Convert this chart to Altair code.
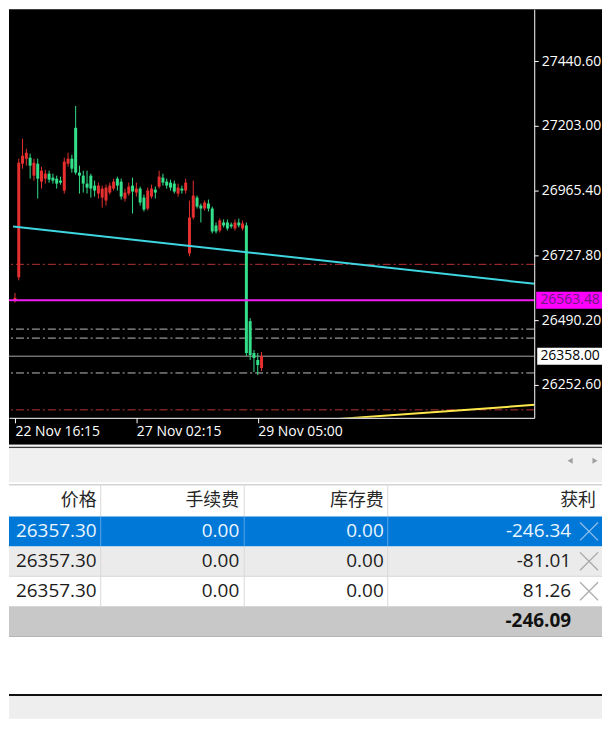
import altair as alt
import numpy as np
import pandas as pd

# -------------------- data --------------------
candle_open = [26560.0, 26647.4, 27064.1, 27082.3, 27086.0, 27020.2, 27064.1, 26998.3, 27009.2, 27027.5,
               27012.9, 27009.2, 27001.9, 26965.4, 27064.1, 27082.3, 27195.7, 27031.2, 27020.2, 26991.0,
               27020.2, 26983.7, 26954.4, 26939.8, 26928.8, 26958.1, 26972.7, 27009.2, 26998.3, 26936.1,
               26954.4, 26983.7, 26958.1, 26972.7, 26939.8, 26899.6, 26943.4, 26969.0, 26980.0, 27012.9,
               26998.3, 26994.6, 26991.0, 26954.4, 26972.7, 26965.4, 26735.1, 26866.7, 26939.8, 26910.5,
               26899.6, 26917.9, 26899.6, 26837.4, 26819.2, 26848.4, 26848.4, 26841.1, 26826.5, 26848.4,
               26826.5, 26837.4, 26486.5, 26369.5, 26344.0, 26314.7]
candle_high = [26590.0, 27082.3, 27155.5, 27118.9, 27100.6, 27082.3, 27082.3, 27053.1, 27042.1, 27038.5,
               27027.5, 27020.2, 27016.5, 27086.0, 27104.3, 27097.0, 27276.1, 27056.8, 27038.5, 27038.5,
               27027.5, 27001.9, 26994.6, 26983.7, 26987.3, 26994.6, 27009.2, 27016.5, 27009.2, 26972.7,
               26994.6, 27012.9, 26994.6, 26980.0, 26950.8, 26976.3, 26987.3, 26980.0, 27038.5, 27027.5,
               27009.2, 27005.6, 27001.9, 26991.0, 26983.7, 27009.2, 26928.8, 27001.9, 26947.1, 26917.9,
               26928.8, 26932.5, 26906.9, 26848.4, 26863.0, 26859.4, 26859.4, 26848.4, 26859.4, 26863.0,
               26855.7, 26848.4, 26497.5, 26380.5, 26369.5, 26373.2]
candle_low = [26555.0, 26636.4, 27045.8, 27056.8, 27009.2, 27001.9, 26936.1, 26972.7, 26991.0, 26994.6,
              26991.0, 26972.7, 26987.3, 26954.4, 27053.1, 27031.2, 27023.9, 26954.4, 26958.1, 26954.4,
              26939.8, 26943.4, 26936.1, 26903.2, 26910.5, 26950.8, 26965.4, 26965.4, 26932.5, 26925.2,
              26947.1, 26881.3, 26943.4, 26910.5, 26888.6, 26892.3, 26936.1, 26936.1, 26972.7, 26983.7,
              26972.7, 26965.4, 26954.4, 26943.4, 26954.4, 26954.4, 26724.1, 26859.4, 26899.6, 26848.4,
              26892.3, 26888.6, 26808.2, 26808.2, 26811.8, 26830.1, 26819.2, 26826.5, 26819.2, 26830.1,
              26819.2, 26358.6, 26344.0, 26300.1, 26289.1, 26303.8]
candle_close = [26572.0, 27067.7, 27093.3, 27104.3, 27056.8, 27067.7, 27009.2, 27038.5, 27027.5, 27005.6,
                27001.9, 26991.0, 26994.6, 27071.4, 27082.3, 27045.8, 27031.2, 27020.2, 26991.0, 26976.3,
                26972.7, 26965.4, 26983.7, 26972.7, 26976.3, 26983.7, 26998.3, 26983.7, 26943.4, 26958.1,
                26980.0, 26961.7, 26972.7, 26921.5, 26895.9, 26965.4, 26972.7, 26958.1, 27016.5, 26994.6,
                26983.7, 26976.3, 26961.7, 26976.3, 26965.4, 26994.6, 26866.7, 26947.1, 26906.9, 26899.6,
                26921.5, 26899.6, 26815.5, 26815.5, 26855.7, 26837.4, 26826.5, 26833.8, 26848.4, 26837.4,
                26844.7, 26369.5, 26362.2, 26351.3, 26325.7, 26358.0]

x_tick_index = [0, 32, 64]
x_tick_text = ["22 Nov 16:15", "27 Nov 02:15", "29 Nov 05:00"]
y_tick_values = [26252.60, 26490.20, 26727.80, 26965.40, 27203.00, 27440.60]

trend_index = [-0.5, 137.0]
trend_price = [26833.8, 26623.4]
channel_index = [80.0, 137.0]
channel_price = [26122.5, 26179.5]

red_levels = [26694.9, 26161.2]
grey_levels = [26457.3, 26424.4, 26296.5]
bid_level = [26358.00]
position_level = [26563.48]

header_names = ["价格", "手续费", "库存费", "获利"]
row_price = [26357.30, 26357.30, 26357.30]
row_fee = [0.00, 0.00, 0.00]
row_swap = [0.00, 0.00, 0.00]
row_profit = [-246.34, -81.01, 81.26]
total_profit = -246.09

# -------------------- layout / style --------------------
FONT = "Open Sans, Noto Sans CJK SC, sans-serif"
TOTAL_W = 595
PLOT_W, PLOT_H = 527, 410
TOP_H = 437
TABLE_H = 275
BAR_STEP = 3.88          # pixels per candle
X_DOMAIN = [-1 / BAR_STEP, (PLOT_W - 1) / BAR_STEP]
Y_DOMAIN = [26132.0, 27630.7]
RED = "#e5302f"
GREEN = "#34df8a"

cd = pd.DataFrame({"i": np.arange(len(candle_open)), "open": candle_open, "high": candle_high,
                   "low": candle_low, "close": candle_close})
cd["col"] = np.where(cd["close"] >= cd["open"], RED, GREEN)

xs = alt.Scale(domain=X_DOMAIN, nice=False, zero=False)
ys = alt.Scale(domain=Y_DOMAIN, nice=False, zero=False)
label_expr = " : ".join(f"datum.value == {v} ? '{t}'" for v, t in zip(x_tick_index, x_tick_text)) + " : ''"
x_axis = alt.Axis(values=x_tick_index, labelExpr=label_expr, orient="bottom", domainColor="white",
                  domainWidth=1, tickColor="white", tickSize=5, labelColor="white", labelFont=FONT,
                  labelFontSize=14, labelAlign="left", labelBaseline="top", labelPadding=2,
                  labelFlush=False, labelOverlap=False, grid=False, zindex=1, title=None)
y_axis = alt.Axis(values=y_tick_values, format=".2f", orient="right", domainColor="white",
                  tickColor="white", tickSize=4, labelColor="white", labelFont=FONT, labelFontSize=14,
                  labelPadding=3, labelOverlap=False, labelFlush=False, grid=False, zindex=1, title=None)


def X(f):
    return alt.X(f, type="quantitative", scale=xs, axis=x_axis, title=None)


def Y(f):
    return alt.Y(f, type="quantitative", scale=ys, axis=y_axis, title=None)


one = pd.DataFrame({"k": [0]})
bg = alt.Chart(one).mark_rect(color="black").encode(
    x=alt.value(0), x2=alt.value(TOTAL_W), y=alt.value(0), y2=alt.value(TOP_H))

dash = [8, 3, 2, 3]
red_lv = alt.Chart(pd.DataFrame({"p": red_levels})).mark_rule(
    color="#b83232", strokeWidth=1, strokeDash=dash).encode(y=Y("p"))
grey_lv = alt.Chart(pd.DataFrame({"p": grey_levels})).mark_rule(
    color="#bdbdbd", strokeWidth=1, strokeDash=dash).encode(y=Y("p"))
bid_lv = alt.Chart(pd.DataFrame({"p": bid_level})).mark_rule(
    color="#a8a8a8", strokeWidth=1).encode(y=Y("p"))
pos_lv = alt.Chart(pd.DataFrame({"p": position_level})).mark_rule(
    color="#f01cf0", strokeWidth=2).encode(y=Y("p"))
trend = alt.Chart(pd.DataFrame({"i": trend_index, "p": trend_price})).mark_line(
    color="#3ed6e0", strokeWidth=2, clip=True).encode(x=X("i"), y=Y("p"))
channel = alt.Chart(pd.DataFrame({"i": channel_index, "p": channel_price})).mark_line(
    color="#ffe94a", strokeWidth=2, clip=True).encode(x=X("i"), y=Y("p"))

wick = alt.Chart(cd).mark_rule(strokeWidth=1).encode(
    x=X("i"), y=Y("low"), y2="high", color=alt.Color("col:N", scale=None))
body = alt.Chart(cd).mark_bar(size=3).encode(
    x=X("i"), y=Y("open"), y2="close", color=alt.Color("col:N", scale=None))

half = 8.5 * (Y_DOMAIN[1] - Y_DOMAIN[0]) / PLOT_H
pos_df = pd.DataFrame({"p": position_level})
pos_df["top"] = pos_df["p"] + half
pos_df["bot"] = pos_df["p"] - half
pos_df["txt"] = pos_df["p"].map(lambda v: f"{v:.2f}")
bid_df = pd.DataFrame({"p": bid_level})
bid_df["top"] = bid_df["p"] + half
bid_df["bot"] = bid_df["p"] - half
bid_df["txt"] = bid_df["p"].map(lambda v: f"{v:.2f}")

pos_box = alt.Chart(pos_df).mark_rect(color="#ff00ff").encode(
    x=alt.value(529), x2=alt.value(TOTAL_W), y=Y("top"), y2="bot")
pos_txt = alt.Chart(pos_df).mark_text(font=FONT, fontSize=14, color="#6e1b80", align="center",
                                      baseline="middle").encode(x=alt.value(563), y=Y("p"), text="txt:N")
bid_box = alt.Chart(bid_df).mark_rect(color="#ffffff").encode(
    x=alt.value(530), x2=alt.value(TOTAL_W), y=Y("top"), y2="bot")
bid_txt = alt.Chart(bid_df).mark_text(font=FONT, fontSize=14, color="#000000", align="center",
                                      baseline="middle").encode(x=alt.value(563), y=Y("p"), text="txt:N")

top = alt.layer(bg, red_lv, grey_lv, bid_lv, wick, body, trend, channel, pos_lv,
                pos_box, pos_txt, bid_box, bid_txt).properties(width=PLOT_W, height=PLOT_H)

# -------------------- table panel --------------------
tx = alt.Scale(domain=[0, TOTAL_W], nice=False, zero=False)
ty = alt.Scale(domain=[0, TABLE_H], nice=False, zero=False, reverse=True)


def TX(f):
    return alt.X(f, type="quantitative", scale=tx, axis=None, title=None)


def TY(f):
    return alt.Y(f, type="quantitative", scale=ty, axis=None, title=None)


bands = pd.DataFrame([
    (0, 2, "#f2f2f2"), (2, 3.5, "#3a3a3a"), (3.5, 38, "#f0f0f0"), (38, 40, "#ffffff"),
    (40, 41, "#a8a8a8"), (41, 72, "#ffffff"), (72, 102, "#0078d7"), (102, 132, "#ebebeb"),
    (132, 162, "#ffffff"), (162, 192, "#c8c8c8"), (192, 193, "#b4b4b4"), (193, 250, "#ffffff"),
    (250, 252, "#101010"), (252, TABLE_H, "#eeeeee"),
], columns=["y0", "y1", "c"])
band_layer = alt.Chart(bands).mark_rect().encode(
    x=alt.value(0), x2=alt.value(TOTAL_W), y=TY("y0"), y2="y1", color=alt.Color("c:N", scale=None))

sep_x = [92, 236, 380]
seps = []
for sx in sep_x:
    seps += [(sx, 41, 72, "#d9d9d9"), (sx, 72, 102, "#5aa5e8"), (sx, 102, 162, "#d9d9d9")]
seps = pd.DataFrame(seps, columns=["x", "y0", "y1", "c"])
sep_layer = alt.Chart(seps).mark_rule(strokeWidth=1).encode(
    x=TX("x"), y=TY("y0"), y2="y1", color=alt.Color("c:N", scale=None))
row_line = alt.Chart(pd.DataFrame({"y": [132]})).mark_rule(color="#d6d6d6", strokeWidth=1).encode(
    x=alt.value(0), x2=alt.value(TOTAL_W), y=TY("y"))

col_right = [88, 231, 376, 564]
head_right = [88, 231, 376, 589]
cells = []
for k, h in enumerate(header_names):
    cells.append((head_right[k], 56, h, "#262626", 18))
for r in range(3):
    yc = 87 + 30 * r
    c = "#eaf6ff" if r == 0 else "#1b1b1b"
    vals = [row_price[r], row_fee[r], row_swap[r], row_profit[r]]
    for k, v in enumerate(vals):
        cells.append((col_right[k], yc, f"{v:.2f}", c, 19))
cells = pd.DataFrame(cells, columns=["x", "y", "t", "c", "s"])
text_layer = alt.Chart(cells).mark_text(font=FONT, align="right", baseline="middle").encode(
    x=TX("x"), y=TY("y"), text="t:N", color=alt.Color("c:N", scale=None),
    size=alt.Size("s:Q", scale=None))
total_layer = alt.Chart(pd.DataFrame({"x": [col_right[3]], "y": [177], "t": [f"{total_profit:.2f}"]})).mark_text(
    font=FONT, fontSize=19, fontWeight="bold", align="right", baseline="middle", color="#111111").encode(
    x=TX("x"), y=TY("y"), text="t:N")

icons = pd.DataFrame({"x": [582, 582, 582], "y": [87, 117, 147], "c": ["#c9dcf0", "#8c8c8c", "#8c8c8c"]})
icon_layer = alt.Chart(icons).mark_point(shape="M-1,-1L1,1M1,-1L-1,1", filled=False, size=324,
                                         strokeWidth=1.3).encode(
    x=TX("x"), y=TY("y"), color=alt.Color("c:N", scale=None))

arrows = pd.DataFrame({"x": [563, 588], "y": [16, 16], "shape": ["triangle-left", "triangle-right"]})
arrow_layer = alt.Chart(arrows).mark_point(filled=True, size=36, color="#a0a0a0", opacity=1).encode(
    x=TX("x"), y=TY("y"), shape=alt.Shape("shape:N", scale=None))

table = alt.layer(band_layer, row_line, sep_layer, text_layer, total_layer, icon_layer,
                  arrow_layer).properties(width=TOTAL_W, height=TABLE_H)

chart = alt.vconcat(top, table, spacing=0).properties(padding=0, background="white").configure_view(
    stroke=None)

chart.save("out.html", embed_options={"renderer": "svg", "actions": False})
